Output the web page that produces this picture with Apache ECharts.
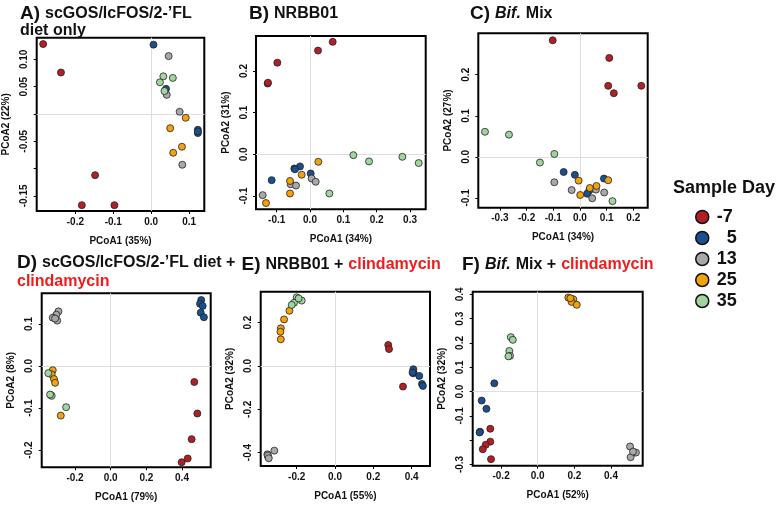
<!DOCTYPE html>
<html><head><meta charset="utf-8">
<script src="https://cdn.jsdelivr.net/npm/echarts@6/dist/echarts.min.js"></script>
<style>html,body{margin:0;padding:0;background:#fff}#c{width:777px;height:505px}</style>
</head><body><div id="c"></div>
<script>
// ---- legend categories ----
const days = ['-7', '5', '13', '25', '35'];

// ---- Panel A: scGOS/lcFOS/2-'FL diet only ----
const A_m7 = [[-0.285,0.128],[-0.238,0.076],[-0.148,-0.112],[-0.183,-0.167],[-0.097,-0.167]];
const A_5  = [[0.006,0.127],[0.039,0.046],[0.123,-0.029],[0.123,-0.035],[0.123,-0.032]];
const A_13 = [[0.046,0.106],[0.041,0.035],[0.075,0.004],[0.082,-0.093]];
const A_25 = [[0.091,-0.007],[0.050,-0.026],[0.081,-0.060],[0.058,-0.071]];
const A_35 = [[0.032,0.069],[0.057,0.066],[0.023,0.058],[0.035,0.042]];
const A_xTicks = [-0.2,-0.1,0,0.1];
const A_yTicks = [-0.15,-0.10,-0.05,0,0.05,0.10];
const A_yLabels = [-0.15,-0.05,0.05,0.10];

// ---- Panel B: NRBB01 ----
const B_m7 = [[0.068,0.270],[0.024,0.249],[-0.098,0.220],[-0.127,0.170],[-0.126,0.172]];
const B_5  = [[-0.030,-0.029],[-0.047,-0.034],[0.002,-0.046],[-0.115,-0.062],[-0.045,-0.036]];
const B_13 = [[0.005,-0.058],[0.017,-0.066],[-0.058,-0.072],[-0.042,-0.075],[-0.142,-0.098]];
const B_25 = [[0.025,-0.018],[-0.025,-0.049],[-0.060,-0.064],[-0.060,-0.094],[-0.132,-0.117]];
const B_35 = [[0.130,-0.002],[0.177,-0.017],[0.277,-0.006],[0.326,-0.021],[0.058,-0.094]];
const B_xTicks = [-0.1,0,0.1,0.2,0.3];
const B_yTicks = [-0.1,0,0.1,0.2];

// ---- Panel C: Bif. Mix ----
const C_m7 = [[-0.102,0.284],[0.110,0.241],[0.106,0.173],[0.127,0.155],[0.230,0.173]];
const C_5  = [[-0.061,-0.037],[-0.019,-0.044],[0.090,-0.053],[0.035,-0.082],[0.027,-0.090]];
const C_13 = [[-0.096,-0.062],[-0.031,-0.081],[0.060,-0.080],[0.091,-0.087],[0.046,-0.101]];
const C_25 = [[-0.005,-0.058],[0.106,-0.057],[0.062,-0.071],[0.037,-0.076],[0.001,-0.093]];
const C_35 = [[-0.356,0.061],[-0.266,0.054],[-0.096,0.007],[-0.150,-0.014],[0.122,-0.108]];
const C_xTicks = [-0.3,-0.2,-0.1,0,0.1,0.2];
const C_yTicks = [-0.1,0,0.1,0.2];

// ---- Panel D: diet + clindamycin ----
const D_m7 = [[0.469,-0.038],[0.486,-0.113],[0.454,-0.174],[0.432,-0.220],[0.398,-0.229]];
const D_5  = [[0.508,0.157],[0.501,0.148],[0.516,0.143],[0.505,0.127],[0.523,0.116]];
const D_13 = [[-0.293,0.130],[-0.305,0.122],[-0.325,0.115],[-0.300,0.108],[-0.312,0.113]];
const D_25 = [[-0.325,-0.010],[-0.331,-0.020],[-0.318,-0.031],[-0.312,-0.040],[-0.280,-0.118]];
const D_35 = [[-0.350,-0.017],[-0.336,-0.069],[-0.331,-0.071],[-0.250,-0.098],[-0.340,-0.068]];
const D_xTicks = [-0.2,0,0.2,0.4];
const D_yTicks = [-0.2,-0.1,0,0.1];

// ---- Panel E: NRBB01 + clindamycin ----
const E_m7 = [[0.278,0.097],[0.282,0.078],[0.408,-0.034],[0.355,-0.095],[0.410,-0.030]];
const E_5  = [[0.409,-0.015],[0.440,-0.046],[0.454,-0.083],[0.459,-0.092],[0.405,-0.030]];
const E_13 = [[-0.317,-0.391],[-0.353,-0.408],[-0.348,-0.422],[-0.351,-0.414],[-0.346,-0.426]];
const E_25 = [[-0.238,0.255],[-0.266,0.215],[-0.283,0.174],[-0.285,0.158],[-0.283,0.123]];
const E_35 = [[-0.200,0.317],[-0.174,0.302],[-0.214,0.292],[-0.226,0.282],[-0.190,0.312]];
const E_xTicks = [-0.2,0,0.2,0.4];
const E_yTicks = [-0.4,-0.2,0,0.2];

// ---- Panel F: Bif. Mix + clindamycin ----
const F_m7 = [[-0.259,-0.153],[-0.259,-0.206],[-0.284,-0.219],[-0.300,-0.237],[-0.255,-0.278]];
const F_5  = [[-0.237,0.034],[-0.306,-0.037],[-0.280,-0.071],[-0.315,-0.165],[-0.317,-0.168]];
const F_13 = [[0.504,-0.226],[0.525,-0.251],[0.536,-0.251],[0.507,-0.270],[0.520,-0.247]];
const F_25 = [[0.167,0.387],[0.194,0.380],[0.185,0.369],[0.213,0.357],[0.178,0.384]];
const F_35 = [[-0.147,0.224],[-0.136,0.213],[-0.155,0.167],[-0.151,0.147],[-0.160,0.145]];
const F_xTicks = [-0.2,0,0.2,0.4];
const F_yTicks = [-0.3,-0.2,-0.1,0,0.1,0.2,0.3,0.4];
const F_yLabels = [-0.3,-0.1,0,0.1,0.2,0.3,0.4];

// ---- styles ----
const FONT = '"Liberation Sans", Arial, Helvetica, sans-serif';
const dayColors = ['#B21F24', '#1A4F90', '#A8A8A8', '#F3A10D', '#A0D5A0'];

const panels = [
  {grid:{left:36.7,top:37.7,width:167.6,height:173.3}, xr:[-0.302,0.140], yr:[-0.1777,0.1397],
   xt:A_xTicks, yt:A_yTicks, yl:A_yLabels, xd:1, yd:2, xName:'PCoA1 (35%)', yName:'PCoA2 (22%)',
   sets:[A_m7,A_5,A_13,A_25,A_35]},
  {grid:{left:256,top:36,width:169.7,height:173.3}, xr:[-0.162,0.347], yr:[-0.132,0.284],
   xt:B_xTicks, yt:B_yTicks, xd:1, yd:1, xName:'PCoA1 (34%)', yName:'PCoA2 (31%)',
   sets:[B_m7,B_5,B_13,B_25,B_35]},
  {grid:{left:478.3,top:33.3,width:169.4,height:174.4}, xr:[-0.381,0.254], yr:[-0.124,0.301],
   xt:C_xTicks, yt:C_yTicks, xd:1, yd:1, xName:'PCoA1 (34%)', yName:'PCoA2 (27%)',
   sets:[C_m7,C_5,C_13,C_25,C_35]},
  {grid:{left:41.7,top:293.3,width:169,height:174}, xr:[-0.387,0.561], yr:[-0.241,0.173],
   xt:D_xTicks, yt:D_yTicks, xd:1, yd:1, xName:'PCoA1 (79%)', yName:'PCoA2 (8%)',
   sets:[D_m7,D_5,D_13,D_25,D_35]},
  {grid:{left:260.7,top:291.7,width:169.3,height:174.3}, xr:[-0.388,0.496], yr:[-0.462,0.343],
   xt:E_xTicks, yt:E_yTicks, xd:1, yd:1, xName:'PCoA1 (55%)', yName:'PCoA2 (32%)',
   sets:[E_m7,E_5,E_13,E_25,E_35]},
  {grid:{left:472.7,top:291.7,width:170,height:174}, xr:[-0.355,0.573], yr:[-0.305,0.411],
   xt:F_xTicks, yt:F_yTicks, yl:F_yLabels, xd:1, yd:1, xName:'PCoA1 (52%)', yName:'PCoA2 (32%)',
   sets:[F_m7,F_5,F_13,F_25,F_35]}
];

const txt = {fontFamily:FONT, fontWeight:'bold', color:'#111'};
const grids = [], xAxes = [], yAxes = [], series = [];
panels.forEach((p, i) => {
  grids.push(Object.assign({show:true, borderColor:'#000', borderWidth:2, backgroundColor:'transparent', containLabel:false}, p.grid));
  xAxes.push({
    type:'value', gridIndex:i, min:p.xr[0], max:p.xr[1], position:'bottom',
    axisLine:{show:false, onZero:false}, splitLine:{show:false},
    axisTick:{show:true, inside:false, length:3, customValues:p.xt, lineStyle:{color:'#000', width:1}},
    axisLabel:Object.assign({customValues:p.xt, margin:6, fontSize:10, formatter:v => Number(v).toFixed(p.xd)}, txt),
    name:p.xName, nameLocation:'middle', nameGap:25,
    nameTextStyle:Object.assign({fontSize:10}, txt)
  });
  yAxes.push({
    type:'value', gridIndex:i, min:p.yr[0], max:p.yr[1], position:'left',
    axisLine:{show:false, onZero:false}, splitLine:{show:false},
    axisTick:{show:true, inside:false, length:3, customValues:p.yt, lineStyle:{color:'#000', width:1}},
    axisLabel:Object.assign({customValues:p.yl || p.yt, rotate:90, margin:7, fontSize:10, formatter:v => Number(v).toFixed(p.yd)}, txt),
    name:p.yName, nameLocation:'middle', nameGap:25,
    nameTextStyle:Object.assign({fontSize:10}, txt)
  });
  series.push({
    type:'scatter', name:'zero', xAxisIndex:i, yAxisIndex:i, data:[], silent:true,
    markLine:{z:1, silent:true, symbol:'none', label:{show:false}, animation:false,
      lineStyle:{color:'#dedede', width:1, type:'solid'},
      data:[{xAxis:0},{yAxis:0}]}
  });
  p.sets.forEach((d, k) => {
    series.push({
      type:'scatter', name:days[k], xAxisIndex:i, yAxisIndex:i, data:d, z:3,
      symbol:'circle', symbolSize:7,
      itemStyle:{color:dayColors[k], borderColor:'#222', borderWidth:0.8, opacity:1},
      emphasis:{disabled:true}
    });
  });
});

const rich = {
  p:{fontFamily:FONT, fontWeight:'bold', fontSize:19, color:'#111', lineHeight:16},
  t:{fontFamily:FONT, fontWeight:'bold', fontSize:16, color:'#111', lineHeight:16},
  i:{fontFamily:FONT, fontWeight:'bold', fontStyle:'italic', fontSize:16, color:'#111', lineHeight:16},
  r:{fontFamily:FONT, fontWeight:'bold', fontSize:16, color:'#F21B1B', lineHeight:16}
};
const richD = {
  p:Object.assign({}, rich.p, {lineHeight:19}),
  t:Object.assign({}, rich.t, {lineHeight:19}),
  r:Object.assign({}, rich.r, {lineHeight:19})
};
const mkTitle = (left, top, text, r) => ({left, top, padding:0, text, textStyle:{rich:r || rich}});

const titles = [
  mkTitle(20, 5, '{p|A)} {t|scGOS/lcFOS/2-’FL}\n{t|diet only}'),
  mkTitle(249, 5, '{p|B)} {t|NRBB01}'),
  mkTitle(470, 5, '{p|C)} {i|Bif.} {t|Mix}'),
  mkTitle(17, 253, '{p|D)} {t|scGOS/lcFOS/2-’FL diet +}\n{r|clindamycin}', richD),
  mkTitle(241.5, 256, '{p|E)} {t|NRBB01 +} {r|clindamycin}'),
  mkTitle(462, 256, '{p|F)} {i|Bif.} {t|Mix +} {r|clindamycin}'),
  {left:673, top:179, padding:0, text:'Sample Day', textStyle:{fontFamily:FONT, fontWeight:'bold', fontSize:18, color:'#111'}}
];

const chart = echarts.init(document.getElementById('c'), null, {renderer:'canvas'});
chart.setOption({
  animation:false,
  backgroundColor:'#fff',
  title:titles,
  legend:{
    data:days, orient:'vertical', left:690, top:203, icon:'circle',
    itemWidth:13, itemHeight:13, itemGap:3,
    itemStyle:{borderColor:'#111', borderWidth:1.5},
    formatter:n => (n === '5' ? '  5' : n),
    textStyle:{fontFamily:FONT, fontWeight:'bold', fontSize:18, color:'#111', lineHeight:18, padding:[0,0,0,3]}
  },
  grid:grids, xAxis:xAxes, yAxis:yAxes, series:series
});
</script></body></html>
